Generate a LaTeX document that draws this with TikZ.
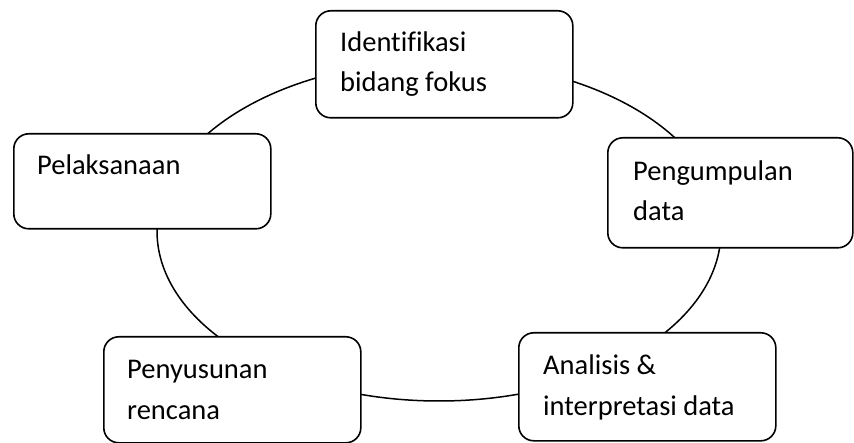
\documentclass[tikz,border=0pt]{standalone}
\usepackage{fontspec}
\setmainfont{Carlito}[Ligatures=CommonOff]
\begin{document}
\begin{tikzpicture}[x=1pt,y=-1pt,line join=round,line cap=round,
		stepbox/.style={draw,fill=white,line width=1.6pt,rounded corners=15pt,
			minimum width=257pt,minimum height=#1,anchor=north west,inner sep=0pt},
		steptext/.style={anchor=base west,align=left,inner sep=0pt,
			font=\fontsize{28.5}{40}\selectfont}]
	\useasboundingbox (0,0) rectangle (854,443);
	% the cycle behind the boxes
	\draw[line width=1.5pt] (439,231) ellipse [x radius=282, y radius=170];
	% the five steps
	\node[stepbox=107pt] (ident) at (315,10) {};
	\node[stepbox=110pt,minimum width=245pt] (kumpul) at (607,137) {};
	\node[stepbox=108pt] (analisis) at (518,332) {};
	\node[stepbox=106pt] (susun) at (103,336) {};
	\node[stepbox=95pt] (laksana) at (13,133) {};
	% base is the last line of each text
	\node[steptext] (identtxt) at ([shift={(25,82)}]ident.north west) {Identifikasi\\bidang fokus};
	\node[steptext] (kumpultxt) at ([shift={(26,84)}]kumpul.north west) {Pengumpulan\\data};
	\node[steptext] (analisistxt) at ([shift={(25,83)}]analisis.north west) {Analisis \&\\interpretasi data};
	\node[steptext] (susuntxt) at ([shift={(24,83)}]susun.north west) {Penyusunan\\rencana};
	\node[steptext] (laksanatxt) at ([shift={(24,42)}]laksana.north west) {Pelaksanaan};
\end{tikzpicture}
\end{document}
